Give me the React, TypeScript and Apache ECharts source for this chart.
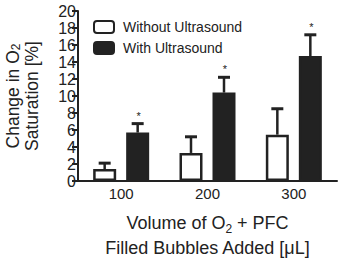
import React, { useEffect, useRef } from "react";
import * as echarts from "echarts";

const categories = ["100", "200", "300"];
const withoutUS = [1.4, 3.3, 5.45];
const withoutUSErrTop = [2.1, 5.2, 8.5];
const withUS = [5.7, 10.4, 14.7];
const withUSErrTop = [6.75, 12.2, 17.2];
const significant = [true, true, true];

const INK = "#222222";
const FONT = "Liberation Sans, Arial, sans-serif";
const BAR_W = 23;
const BAR_GAP = 10;

export default function App() {
  const ref = useRef<HTMLDivElement>(null);
  useEffect(() => {
    document.body.style.margin = "0";
    const chart = echarts.init(ref.current!, undefined, { renderer: "svg" });

    const errData: any[] = [];
    categories.forEach((_, i) => {
      errData.push([i, withoutUS[i], withoutUSErrTop[i], 0, 0]);
      errData.push([i, withUS[i], withUSErrTop[i], 1, significant[i] ? 1 : 0]);
    });

    const renderItem = (params: any, api: any) => {
      const idx = api.value(0);
      const v = api.value(1);
      const top = api.value(2);
      const s = api.value(3);
      const star = api.value(4);
      const off = (s === 0 ? -1 : 1) * (BAR_W + BAR_GAP) / 2;
      const p0 = api.coord([idx, v]);
      const p1 = api.coord([idx, top]);
      const x = p0[0] + off;
      const children: any[] = [
        {
          type: "line",
          shape: { x1: x, y1: p0[1], x2: x, y2: p1[1] },
          style: { stroke: INK, lineWidth: 2.5 },
        },
        {
          type: "line",
          shape: { x1: x - 6, y1: p1[1], x2: x + 6, y2: p1[1] },
          style: { stroke: INK, lineWidth: 3 },
        },
      ];
      if (star) {
        children.push({
          type: "text",
          style: {
            x: x + 1,
            y: p1[1] - 8,
            text: "*",
            fill: INK,
            font: "11px " + FONT,
            align: "center",
            verticalAlign: "middle",
          },
        });
      }
      return { type: "group", children };
    };

    chart.setOption({
      animation: false,
      textStyle: { fontFamily: FONT, color: INK },
      grid: { left: 78, right: 4, top: 11, bottom: 78, outerBoundsMode: "none", containLabel: false },
      legend: {
        orient: "vertical",
        left: 93,
        top: 20,
        padding: 0,
        itemWidth: 20,
        itemHeight: 12,
        itemGap: 7,
        data: ["Without Ultrasound", "With Ultrasound"],
        textStyle: { fontSize: 14, color: INK, fontFamily: FONT, padding: [0, 0, 0, 4] },
      },
      xAxis: {
        type: "category",
        data: categories,
        axisLine: { lineStyle: { color: INK, width: 2 } },
        axisTick: { alignWithLabel: true, length: 5, lineStyle: { color: INK, width: 2 } },
        axisLabel: { fontSize: 15, color: INK, margin: 5, fontFamily: FONT },
        name: "{a|Volume of O}{s|2}{a| + PFC}\n{a|Filled Bubbles Added [μL]}",
        nameLocation: "middle",
        nameGap: 29,
        nameTextStyle: {
          rich: {
            a: { fontSize: 18, lineHeight: 25, color: INK, fontFamily: FONT },
            s: { fontSize: 12, lineHeight: 16, verticalAlign: "bottom", color: INK, fontFamily: FONT },
          },
        },
      },
      yAxis: {
        type: "value",
        min: 0,
        max: 20,
        interval: 2,
        splitLine: { show: false },
        axisLine: { show: true, lineStyle: { color: INK, width: 2 } },
        axisTick: { show: true, length: 6, lineStyle: { color: INK, width: 2 } },
        axisLabel: { fontSize: 16, color: INK, margin: 2, fontFamily: FONT },
        name: "{a|Change in O}{s|2}\n{a|Saturation [%]}",
        nameLocation: "middle",
        nameRotate: 90,
        nameGap: 37,
        nameTextStyle: {
          rich: {
            a: { fontSize: 17.5, lineHeight: 19, color: INK, fontFamily: FONT },
            s: { fontSize: 12, lineHeight: 12, verticalAlign: "bottom", color: INK, fontFamily: FONT },
          },
        },
      },
      series: [
        {
          name: "Without Ultrasound",
          type: "bar",
          data: withoutUS,
          barWidth: BAR_W,
          barGap: (BAR_GAP / BAR_W) * 100 + "%",
          itemStyle: { color: "#ffffff", borderColor: INK, borderWidth: 2.5 },
        },
        {
          name: "With Ultrasound",
          type: "bar",
          data: withUS,
          barWidth: BAR_W,
          itemStyle: { color: INK, borderColor: INK, borderWidth: 2.5 },
        },
        {
          type: "custom",
          renderItem,
          data: errData,
          z: 5,
          silent: true,
          encode: { x: 0, y: [1, 2] },
        },
      ],
    });
    return () => chart.dispose();
  }, []);
  return <div ref={ref} style={{ width: 341, height: 259 }} />;
}
